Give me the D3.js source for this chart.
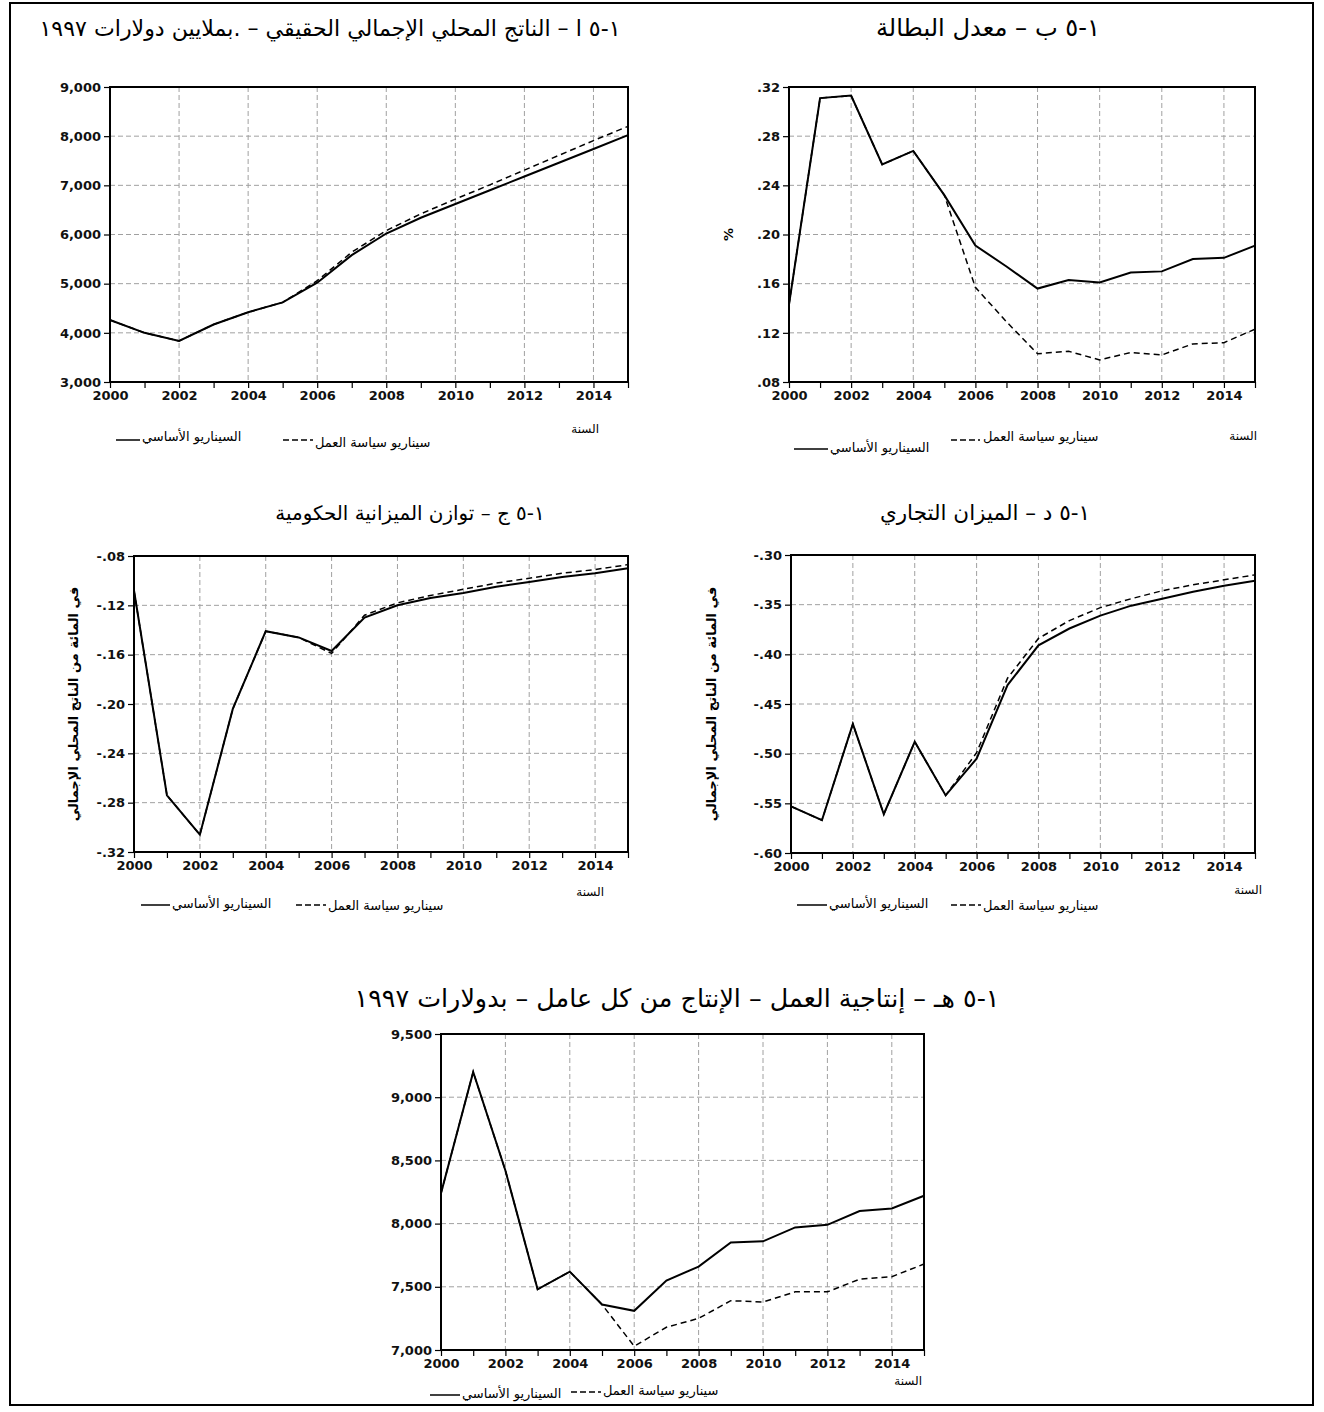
<!DOCTYPE html>
<html>
<head>
<meta charset="utf-8">
<script src="https://cdn.jsdelivr.net/npm/d3@7"></script>
<style>
  body { margin: 0; background: #fff; }
  svg text { font-family: "DejaVu Sans", sans-serif; }
  .ar { direction: rtl; unicode-bidi: embed; }
  .tick text { font-weight: bold; font-size: 13px; fill: #111; }
</style>
</head>
<body>
<svg id="chart" width="1324" height="1412"></svg>
<script>
// years on the x axis
const years = [2000, 2001, 2002, 2003, 2004, 2005, 2006, 2007, 2008, 2009, 2010, 2011, 2012, 2013, 2014, 2015];

// 5-1 a real GDP, millions of 1997 dollars
const gdpBase   = [4260, 4000, 3835, 4170, 4420, 4620, 5020, 5580, 6020, 6340, 6620, 6900, 7180, 7460, 7740, 8020];
const gdpPolicy = [4260, 4000, 3835, 4170, 4420, 4620, 5060, 5640, 6080, 6420, 6720, 7010, 7310, 7610, 7910, 8200];
const gdpTicks  = [3000, 4000, 5000, 6000, 7000, 8000, 9000];

// 5-1 b unemployment rate
const unempBase   = [.143, .311, .313, .257, .268, .232, .191, .174, .156, .163, .161, .169, .170, .180, .181, .191];
const unempPolicy = [.143, .311, .313, .257, .268, .232, .157, .129, .103, .105, .098, .104, .102, .111, .112, .123];
const unempTicks  = [.08, .12, .16, .20, .24, .28, .32];

// 5-1 c government budget balance
const budgetBase   = [-.108, -.274, -.306, -.204, -.141, -.146, -.157, -.130, -.120, -.114, -.110, -.105, -.101, -.097, -.094, -.090];
const budgetPolicy = [-.108, -.274, -.306, -.204, -.141, -.146, -.159, -.128, -.118, -.112, -.107, -.102, -.098, -.094, -.091, -.087];
const budgetTicks  = [-.32, -.28, -.24, -.20, -.16, -.12, -.08];

// 5-1 d trade balance
const tradeBase   = [-.553, -.567, -.470, -.561, -.488, -.542, -.505, -.431, -.391, -.374, -.361, -.351, -.344, -.337, -.331, -.326];
const tradePolicy = [-.553, -.567, -.470, -.561, -.488, -.542, -.499, -.424, -.384, -.366, -.353, -.344, -.336, -.330, -.325, -.320];
const tradeTicks  = [-.60, -.55, -.50, -.45, -.40, -.35, -.30];

// 5-1 e labour productivity, 1997 dollars per worker
const prodBase   = [8240, 9200, 8420, 7480, 7620, 7360, 7310, 7550, 7660, 7850, 7860, 7970, 7990, 8100, 8120, 8220];
const prodPolicy = [8240, 9200, 8420, 7480, 7620, 7360, 7030, 7180, 7250, 7390, 7380, 7460, 7460, 7560, 7580, 7680];
const prodTicks  = [7000, 7500, 8000, 8500, 9000, 9500];

const baseLabel = "السيناريو الأساسي";
const policyLabel = "سيناريو سياسة العمل";
const yearLabel = "السنة";
const pctGdpLabel = "في المائة من الناتج المحلي الإجمالي";

const svg = d3.select("#chart");

// outer frame
svg.append("rect")
    .attr("x", 10).attr("y", 3)
    .attr("width", 1303).attr("height", 1402)
    .attr("fill", "none").attr("stroke", "#000").attr("stroke-width", 2);

const fmtComma = d3.format(",");
const fmtDec = d => d3.format(".2f")(d).replace("0.", ".").replace("\u2212", "-");

// keep figure numbers like ٥-١ reading left to right inside the rtl title
const fixNum = s => s.replace(/([٠-٩])-([٠-٩])/g, "$1\u200E-\u200E$2");

const panels = [
    { title: "٥-١ ا – الناتج المحلي الإجمالي الحقيقي – .بملايين دولارات ١٩٩٧", tx: 330, ty: 36, tw: 580,
      x0: 110, x1: 628, y0: 87, y1: 382, base: gdpBase, policy: gdpPolicy, ticks: gdpTicks, fmt: fmtComma,
      leg: { l1: [116, 140, 440], t1: 142, t1y: 441, l2: [283, 313, 440], t2: 315, t2y: 447, yr: [599, 433] } },
    { title: "٥-١ ب – معدل البطالة", tx: 988, ty: 36, tw: 224,
      x0: 789, x1: 1255, y0: 87, y1: 382, base: unempBase, policy: unempPolicy, ticks: unempTicks, fmt: fmtDec,
      ylab: "%", ylx: 733,
      leg: { l1: [794, 828, 449], t1: 830, t1y: 452, l2: [951, 980, 440], t2: 983, t2y: 441, yr: [1257, 440] } },
    { title: "٥-١ ج – توازن الميزانية الحكومية", tx: 410, ty: 520, tw: 270,
      x0: 134, x1: 628, y0: 556, y1: 852, base: budgetBase, policy: budgetPolicy, ticks: budgetTicks, fmt: fmtDec,
      ylab: pctGdpLabel, ylx: 78,
      leg: { l1: [141, 170, 905], t1: 172, t1y: 908, l2: [296, 326, 905], t2: 328, t2y: 910, yr: [604, 896] } },
    { title: "٥-١ د – الميزان التجاري", tx: 985, ty: 520, tw: 210,
      x0: 791, x1: 1255, y0: 555, y1: 853, base: tradeBase, policy: tradePolicy, ticks: tradeTicks, fmt: fmtDec,
      ylab: pctGdpLabel, ylx: 716,
      leg: { l1: [797, 827, 905], t1: 829, t1y: 908, l2: [951, 981, 905], t2: 983, t2y: 910, yr: [1262, 894] } },
    { title: "٥-١ هـ – إنتاجية العمل – الإنتاج من كل عامل – بدولارات ١٩٩٧", tx: 677, ty: 1007, tw: 645,
      x0: 441, x1: 924, y0: 1034, y1: 1350, base: prodBase, policy: prodPolicy, ticks: prodTicks, fmt: fmtComma,
      leg: { l1: [430, 460, 1395], t1: 462, t1y: 1398, l2: [571, 601, 1392], t2: 603, t2y: 1395, yr: [922, 1385] } }
];

panels.forEach(p => drawPanel(p));

function drawPanel(p) {
    const x = d3.scaleLinear().domain([years[0], years[years.length - 1]]).range([p.x0, p.x1]);
    const y = d3.scaleLinear().domain(d3.extent(p.ticks)).range([p.y1, p.y0]);
    const g = svg.append("g");

    // title, font size fitted to the source width
    const t = g.append("text")
        .attr("class", "ar")
        .attr("x", p.tx).attr("y", p.ty)
        .attr("text-anchor", "middle")
        .style("font-size", "20px")
        .text(fixNum(p.title));
    const fs = Math.min(26, 20 * p.tw / t.node().getComputedTextLength());
    t.style("font-size", fs.toFixed(1) + "px");

    // grid
    const inner = p.ticks.slice(1, -1);
    g.selectAll(".hgrid").data(inner).enter().append("line")
        .attr("x1", p.x0).attr("x2", p.x1)
        .attr("y1", d => y(d)).attr("y2", d => y(d))
        .attr("stroke", "#a0a0a0").attr("stroke-width", 1).attr("stroke-dasharray", "5,3");
    const vyears = years.filter(d => d % 2 === 0 && d > years[0]);
    g.selectAll(".vgrid").data(vyears).enter().append("line")
        .attr("x1", d => x(d)).attr("x2", d => x(d))
        .attr("y1", p.y0).attr("y2", p.y1)
        .attr("stroke", "#a0a0a0").attr("stroke-width", 1).attr("stroke-dasharray", "5,3");

    // axes
    const ya = g.append("g")
        .attr("transform", `translate(${p.x0},0)`)
        .call(d3.axisLeft(y).tickValues(p.ticks).tickFormat(p.fmt).tickSize(6).tickPadding(3));
    const xa = g.append("g")
        .attr("transform", `translate(0,${p.y1})`)
        .call(d3.axisBottom(x).tickValues(years).tickFormat(d => d % 2 === 0 ? d : "").tickSize(6).tickPadding(3));
    [ya, xa].forEach(a => {
        a.select(".domain").remove();
        a.selectAll(".tick line").attr("stroke", "#000").attr("stroke-width", 1.2);
    });

    // frame
    g.append("rect")
        .attr("x", p.x0).attr("y", p.y0)
        .attr("width", p.x1 - p.x0).attr("height", p.y1 - p.y0)
        .attr("fill", "none").attr("stroke", "#000").attr("stroke-width", 2);

    // series
    const line = d3.line().x((d, i) => x(years[i])).y(d => y(d));
    g.append("path").datum(p.base)
        .attr("d", line).attr("fill", "none")
        .attr("stroke", "#000").attr("stroke-width", 2);
    g.append("path").datum(p.policy)
        .attr("d", line).attr("fill", "none")
        .attr("stroke", "#000").attr("stroke-width", 1.5).attr("stroke-dasharray", "6,4");

    // y label
    if (p.ylab) {
        const cy = (p.y0 + p.y1) / 2;
        g.append("text")
            .attr("class", "ar")
            .attr("transform", `translate(${p.ylx},${cy}) rotate(-90)`)
            .attr("text-anchor", "middle")
            .style("font-size", "13px").style("font-weight", "bold")
            .text(p.ylab);
    }

    // legend
    const L = p.leg;
    g.append("line")
        .attr("x1", L.l1[0]).attr("x2", L.l1[1]).attr("y1", L.l1[2]).attr("y2", L.l1[2])
        .attr("stroke", "#000").attr("stroke-width", 1.5);
    g.append("text").attr("class", "ar")
        .attr("x", L.t1).attr("y", L.t1y)
        .attr("text-anchor", "end")
        .style("font-size", "13px")
        .text(baseLabel);
    g.append("line")
        .attr("x1", L.l2[0]).attr("x2", L.l2[1]).attr("y1", L.l2[2]).attr("y2", L.l2[2])
        .attr("stroke", "#000").attr("stroke-width", 1.5).attr("stroke-dasharray", "6,3");
    g.append("text").attr("class", "ar")
        .attr("x", L.t2).attr("y", L.t2y)
        .attr("text-anchor", "end")
        .style("font-size", "13px")
        .text(policyLabel);
    g.append("text").attr("class", "ar")
        .attr("x", L.yr[0]).attr("y", L.yr[1])
        .attr("text-anchor", "start")
        .style("font-size", "12px")
        .text(yearLabel);
}
</script>
</body>
</html>
